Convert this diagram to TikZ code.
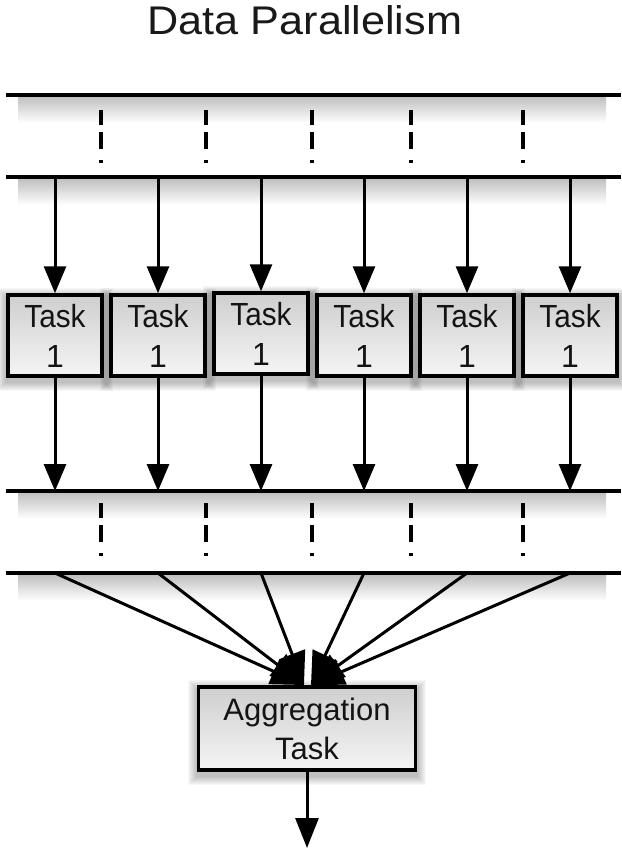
\documentclass[tikz,border=0pt]{standalone}
\usepackage{fontspec}
\setmainfont{Liberation Sans}
\usetikzlibrary{arrows.meta,backgrounds}

% soft halo behind a box
\newcommand\boxhalo[1]{%
  \foreach \r in {1,...,9}{%
    \fill[black,opacity=0.03]
      ([xshift={-\r*1pt},yshift={-\r*1pt-4pt}]#1.south west) rectangle
      ([xshift={\r*1pt},yshift={\r*1pt-4pt}]#1.north east);}}

\begin{document}
\begin{tikzpicture}[x=1pt,y=-1pt,
  heading/.style={font=\fontsize{40}{48}\selectfont, text=black!90, inner sep=0pt, anchor=base},
  rule/.style={line width=3.2pt, black},
  sep/.style={line width=3.5pt, black, dash pattern=on 15pt off 7pt on 17pt off 11pt on 3pt},
  flow/.style={line width=3pt, -{Triangle[length=27pt,width=22pt]}},
  fan/.style={line width=3pt, -{Triangle[length=33pt,width=27pt]}},
  rulefog/.style={top color=black!25, bottom color=white},
  taskbox/.style={draw=black, line width=3.5pt, top color=gray!38, bottom color=gray!8,
    minimum width=94pt, minimum height=81pt, inner sep=0pt, align=center,
    font=\fontsize{32}{40}\selectfont, text=black!92},
  aggbox/.style={draw=black, line width=3.5pt, top color=gray!38, bottom color=gray!8,
    minimum width=217pt, minimum height=83pt, inner sep=0pt, align=center,
    font=\fontsize{31}{39}\selectfont, text=black!92}
]
\useasboundingbox (0,0) rectangle (621,850);

\node[heading] (title) at (305,35) {\scalebox{1.08}[1]{Data Parallelism}};

% horizontal rules of the two data sets
\foreach \n/\y in {a/95, b/177, c/491, d/573} {
  \coordinate (\n W) at (6,\y);
  \coordinate (\n E) at (621,\y);
  \draw[rule] (\n W) -- (\n E);
}

% partition marks
\foreach \x in {101,206,312,411,523} {
  \draw[sep] (\x,110) -- (\x,165);
  \draw[sep] (\x,503) -- (\x,560);
}

% the parallel tasks
\foreach \i/\x/\yy in {1/55/335.5, 2/158/335.5, 3/261/333.5, 4/364/335.5, 5/467/335.5, 6/570/335.5} {
  \node[taskbox] (t\i) at (\x,\yy) {\scalebox{0.93}[1]{Task}\\1};
  \coordinate (src\i) at (\x,177);
  \coordinate (dst\i) at (\x,491);
  \coordinate (fan\i) at (\x,573);
  \draw[flow] (src\i) -- (t\i);
  \draw[flow] (t\i) -- (dst\i);
}

% aggregation
\node[aggbox] (agg) at (307,728.5) {Aggregation\\Task};
\coordinate (tipL) at (304,685);
\coordinate (tipR) at (311,685);
\coordinate (out) at (307,848);
\foreach \i in {1,2,3} {\draw[fan] (fan\i) -- (tipL);}
\foreach \i in {4,5,6} {\draw[fan] (fan\i) -- (tipR);}
\draw[line width=3pt, -{Triangle[length=30pt,width=23pt]}] (agg) -- (out);

% shadows
\begin{scope}[on background layer]
  \foreach \y in {95,177,491,573} {
    \shade[rulefog] (18,\y+1.5) rectangle (606,\y+28);
  }
  \foreach \i in {1,...,6} {\boxhalo{t\i}}
  \boxhalo{agg}
\end{scope}
\end{tikzpicture}
\end{document}
